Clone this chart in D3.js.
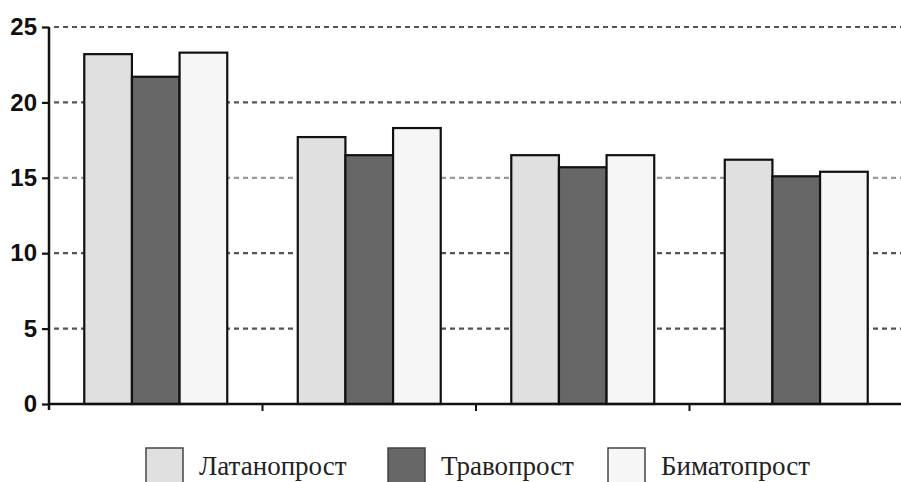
<!DOCTYPE html>
<html>
<head>
<meta charset="utf-8">
<script src="https://cdn.jsdelivr.net/npm/d3@7"></script>
<style>
  body { margin: 0; background: #fff; }
  svg { display: block; }
</style>
</head>
<body>
<div id="chart"></div>
<script>
const groups = ["1", "2", "3", "4"];
const seriesNames = ["Латанопрост", "Травопрост", "Биматопрост"];
const latanoprost = [23.2, 17.7, 16.5, 16.2];
const travoprost = [21.7, 16.5, 15.7, 15.1];
const bimatoprost = [23.3, 18.3, 16.5, 15.4];
const yTicks = [0, 5, 10, 15, 20, 25];

const seriesValues = [latanoprost, travoprost, bimatoprost];
const colors = ["#e0e0e0", "#676767", "#f6f6f6"];

const width = 901, height = 482;

const svg = d3.select("#chart")
    .append("svg")
    .attr("width", width)
    .attr("height", height);

const x0 = d3.scaleBand()
    .domain(groups)
    .range([49, 903])
    .padding(0);

const x1 = d3.scaleBand()
    .domain(seriesNames)
    .range([0, x0.bandwidth()])
    .paddingInner(0)
    .paddingOuter(0.74);

const y = d3.scaleLinear()
    .domain([0, 25])
    .range([404, 27]);

// grid lines
svg.append("g")
    .selectAll("line")
    .data(yTicks.filter(d => d > 0))
    .enter()
    .append("line")
    .attr("x1", 54)
    .attr("x2", 901)
    .attr("y1", d => y(d))
    .attr("y2", d => y(d))
    .attr("stroke", d => d === 15 ? "#9a9a9a" : "#555")
    .attr("stroke-width", 2.2)
    .attr("stroke-dasharray", "5,4");

// bars
const data = [];
groups.forEach((g, i) => {
    seriesNames.forEach((s, j) => {
        data.push({ group: g, series: s, value: seriesValues[j][i], color: colors[j] });
    });
});

svg.append("g")
    .selectAll("rect")
    .data(data)
    .enter()
    .append("rect")
    .attr("x", d => x0(d.group) + x1(d.series))
    .attr("y", d => y(d.value))
    .attr("width", x1.bandwidth())
    .attr("height", d => y(0) - y(d.value))
    .attr("fill", d => d.color)
    .attr("stroke", "#111")
    .attr("stroke-width", 2.2);

// y axis
const yAxis = svg.append("g")
    .attr("transform", "translate(49,0)")
    .call(d3.axisLeft(y).tickValues(yTicks).tickSize(7).tickPadding(5).tickSizeOuter(0));
yAxis.select(".domain").attr("stroke", "#111").attr("stroke-width", 2.5)
    .attr("d", `M0,${y(25)}V410`);
yAxis.selectAll(".tick line").attr("stroke", "#111").attr("stroke-width", 2.2);
yAxis.selectAll(".tick text")
    .attr("fill", "#111")
    .style("font-family", "Liberation Sans, Arial, sans-serif")
    .style("font-weight", "bold")
    .style("font-size", "24px");

// x axis
const xAxis = svg.append("g")
    .attr("transform", `translate(0,${y(0)})`);
xAxis.append("line")
    .attr("x1", 49)
    .attr("x2", 903)
    .attr("stroke", "#111")
    .attr("stroke-width", 2.5);
xAxis.selectAll(".sep")
    .data(groups.slice(1))
    .enter()
    .append("line")
    .attr("class", "sep")
    .attr("x1", d => x0(d))
    .attr("x2", d => x0(d))
    .attr("y1", 0)
    .attr("y2", 7)
    .attr("stroke", "#111")
    .attr("stroke-width", 2);

// legend
const legendX = [146, 388, 608];
const legend = svg.append("g");
seriesNames.forEach((s, j) => {
    legend.append("rect")
        .attr("x", legendX[j])
        .attr("y", 448)
        .attr("width", 37)
        .attr("height", 40)
        .attr("fill", colors[j])
        .attr("stroke", "#444")
        .attr("stroke-width", 1.5);
    legend.append("text")
        .attr("x", legendX[j] + 53)
        .attr("y", 475)
        .style("font-family", "Liberation Serif, Times New Roman, serif")
        .style("font-size", "27px")
        .attr("fill", "#222")
        .text(s);
});
</script>
</body>
</html>
